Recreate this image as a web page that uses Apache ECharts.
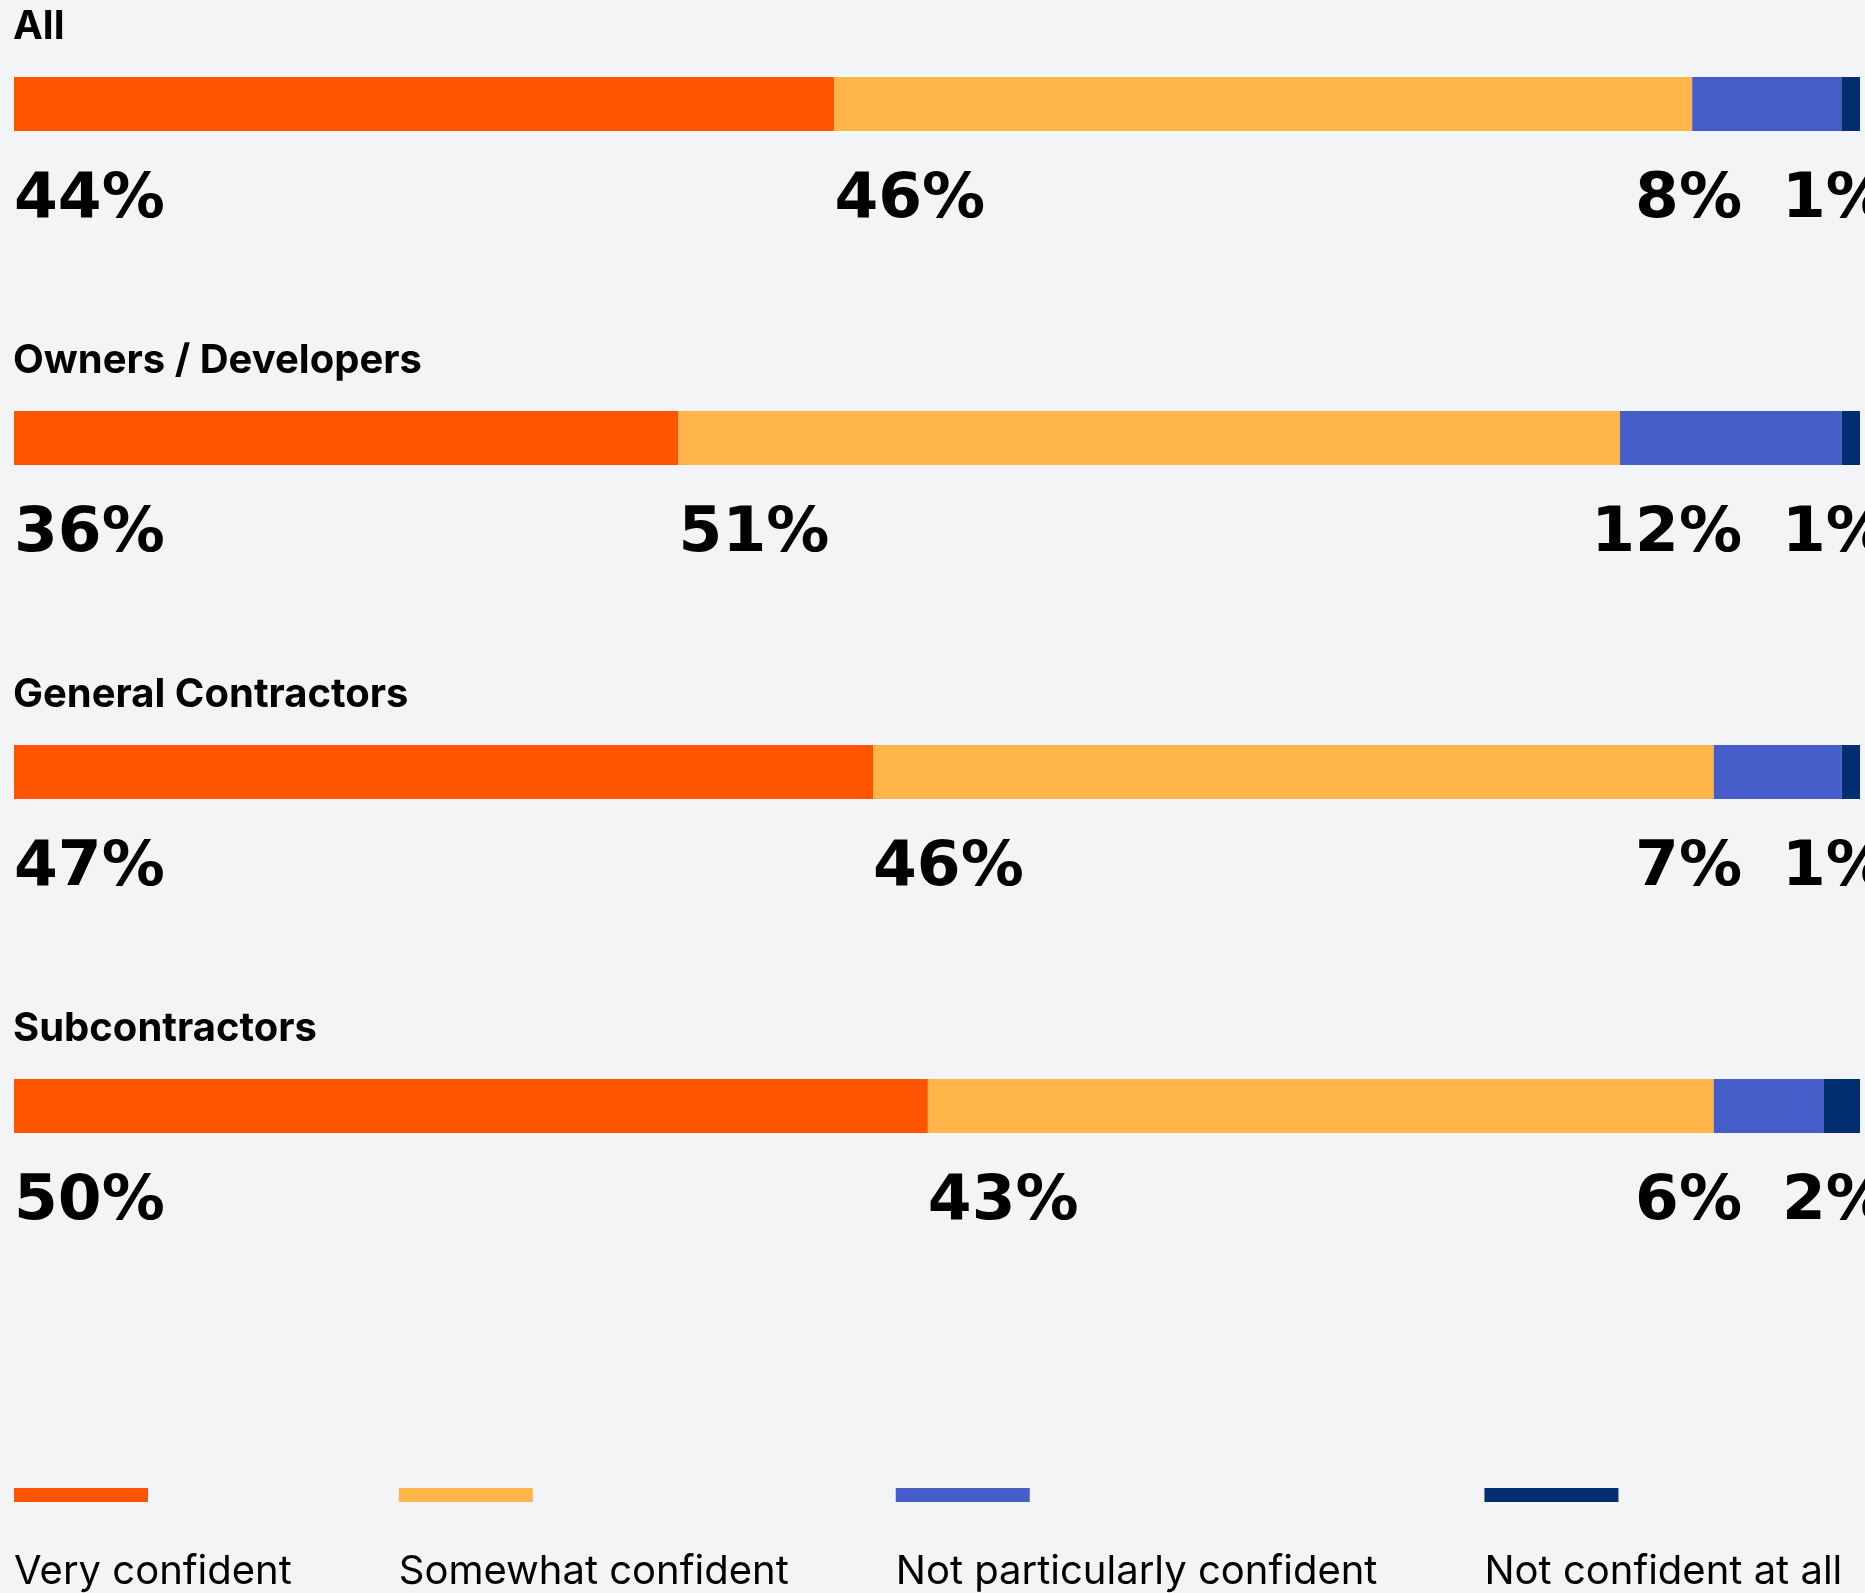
<!DOCTYPE html>
<html>
<head>
<meta charset="utf-8">
<title>Confidence by respondent group</title>
<script src="https://cdn.jsdelivr.net/npm/echarts@6/dist/echarts.min.js"></script>
<style>
  html, body { margin: 0; padding: 0; background: #F3F4F6; }
  #chart { width: 1865px; height: 1593px; }
</style>
</head>
<body>
<div id="chart"></div>
<script>
// Respondent groups, one stacked bar each
const groups = ['All', 'Owners / Developers', 'General Contractors', 'Subcontractors'];

// Answer levels (legend order, left to right in each bar)
const levels = ['Very confident', 'Somewhat confident', 'Not particularly confident', 'Not confident at all'];

// Share of respondents per group, in percent
const veryConfident = [44, 36, 47, 50];
const somewhatConfident = [46, 51, 46, 43];
const notParticularlyConfident = [8, 12, 7, 6];
const notConfidentAtAll = [1, 1, 1, 2];

const levelValues = [veryConfident, somewhatConfident, notParticularlyConfident, notConfidentAtAll];
const levelColors = ['#FF5400', '#FFB549', '#455ECA', '#002E6E'];

// Layout
const plotLeft = 14;
const plotWidth = 1846;
const barTop = 77;
const rowStep = 334;
const barHeight = 54;
const labelGap = 38;
const lastLabelX = 1782;
const labelSpacing = 40;

const labelFontSize = 63;
const labelFontFamily = '"DejaVu Sans"';
const titleFont = { fontFamily: 'Inter', fontWeight: 700, fontSize: 40, color: '#000' };

// Measure value labels so trailing ones can be nudged left when segments are narrow
const measureCtx = document.createElement('canvas').getContext('2d');
measureCtx.font = 'bold ' + labelFontSize + 'px ' + labelFontFamily;
function textWidth(t) { return measureCtx.measureText(t).width; }

// labelX[row][level] : left edge of each value label
const labelX = groups.map(function (g, r) {
  const vals = levelValues.map(function (arr) { return arr[r]; });
  const total = vals.reduce(function (a, b) { return a + b; }, 0);
  let cum = 0;
  const starts = vals.map(function (v) {
    const s = plotLeft + cum / total * plotWidth;
    cum += v;
    return s;
  });
  const xs = new Array(vals.length);
  const n = vals.length;
  xs[n - 1] = Math.min(starts[n - 1], lastLabelX);
  for (let j = n - 2; j >= 0; j--) {
    const w = textWidth(vals[j] + '%');
    xs[j] = Math.min(starts[j], xs[j + 1] - w - labelSpacing);
  }
  return xs;
});

const grids = [], xAxes = [], yAxes = [], titles = [], series = [];
const seriesMeta = [];

groups.forEach(function (g, r) {
  const total = levelValues.reduce(function (a, arr) { return a + arr[r]; }, 0);
  grids.push({ left: plotLeft, width: plotWidth, top: barTop + r * rowStep, height: barHeight, containLabel: false });
  xAxes.push({ type: 'value', gridIndex: r, min: 0, max: total, show: false });
  yAxes.push({ type: 'category', gridIndex: r, data: [g], show: false });
  titles.push({
    text: g, left: plotLeft - 1, top: barTop + r * rowStep - 70, padding: 0,
    textStyle: titleFont
  });
  levels.forEach(function (lvl, j) {
    seriesMeta.push({ row: r, level: j });
    series.push({
      name: lvl,
      type: 'bar',
      xAxisIndex: r,
      yAxisIndex: r,
      stack: 'row' + r,
      barWidth: barHeight,
      itemStyle: { color: levelColors[j] },
      emphasis: { disabled: true },
      animation: false,
      label: {
        show: true,
        formatter: '{c}%',
        color: '#000',
        fontFamily: labelFontFamily,
        fontWeight: 'bold',
        fontSize: labelFontSize
      },
      data: [levelValues[j][r]]
    });
  });
});

const chart = echarts.init(document.getElementById('chart'), null, { renderer: 'canvas' });
chart.setOption({
  backgroundColor: '#F3F4F6',
  animation: false,
  title: titles,
  grid: grids,
  xAxis: xAxes,
  yAxis: yAxes,
  legend: {
    left: plotLeft - 5,
    top: 1488,
    padding: 0,
    itemWidth: 0,
    itemHeight: 0,
    itemGap: 102,
    selectedMode: false,
    data: levels.map(function (lvl, j) {
      return {
        name: lvl,
        icon: 'rect',
        itemStyle: { color: 'transparent' },
        textStyle: {
          rich: {
            sw: { width: 134, height: 14, backgroundColor: levelColors[j] },
            t: { fontFamily: 'Inter', fontSize: 40, fontWeight: 400, color: '#000', lineHeight: 140 }
          }
        }
      };
    }),
    formatter: function (name) { return '{sw|}\n{t|' + name + '}'; }
  },
  labelLayout: function (params) {
    const meta = seriesMeta[params.seriesIndex];
    return {
      x: labelX[meta.row][meta.level],
      y: params.rect.y + params.rect.height + labelGap,
      align: 'left',
      verticalAlign: 'top'
    };
  },
  series: series
});
</script>
</body>
</html>
